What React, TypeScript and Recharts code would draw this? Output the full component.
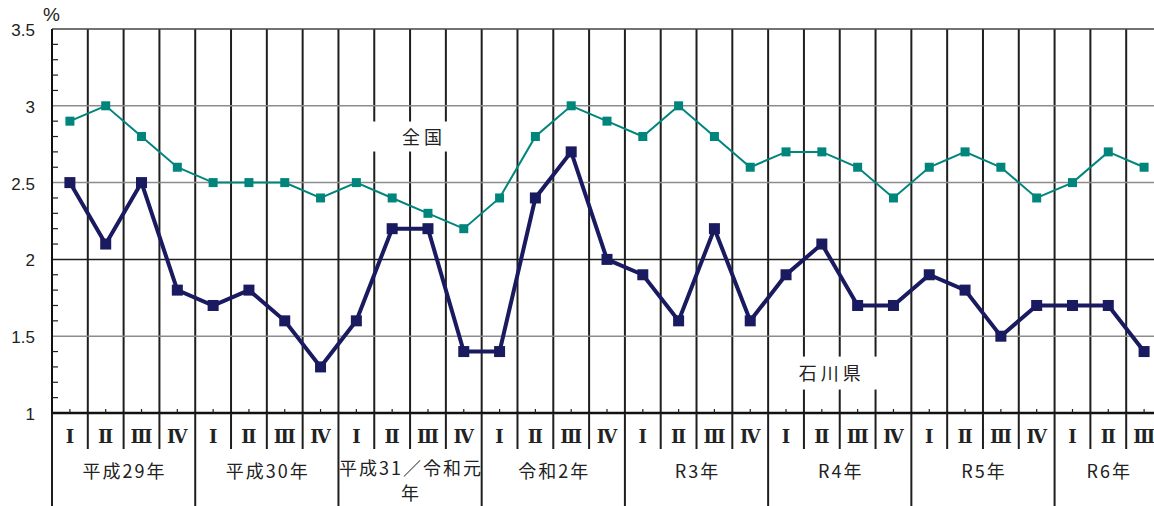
import React from 'react';
import { LineChart, Line, XAxis, YAxis, CartesianGrid, ReferenceLine, ReferenceDot } from 'recharts';

// ---- data ----
const quarterLabels = ['Ⅰ', 'Ⅱ', 'Ⅲ', 'Ⅳ'];
const yearLabels: string[][] = [
  ['平成29年'],
  ['平成30年'],
  ['平成31／令和元', '年'],
  ['令和2年'],
  ['R3年'],
  ['R4年'],
  ['R5年'],
  ['R6年'],
];
const quarterCounts = [4, 4, 4, 4, 4, 4, 4, 3];
const zenkoku = [
  2.9, 3.0, 2.8, 2.6,
  2.5, 2.5, 2.5, 2.4,
  2.5, 2.4, 2.3, 2.2,
  2.4, 2.8, 3.0, 2.9,
  2.8, 3.0, 2.8, 2.6,
  2.7, 2.7, 2.6, 2.4,
  2.6, 2.7, 2.6, 2.4,
  2.5, 2.7, 2.6,
];
const ishikawa = [
  2.5, 2.1, 2.5, 1.8,
  1.7, 1.8, 1.6, 1.3,
  1.6, 2.2, 2.2, 1.4,
  1.4, 2.4, 2.7, 2.0,
  1.9, 1.6, 2.2, 1.6,
  1.9, 2.1, 1.7, 1.7,
  1.9, 1.8, 1.5, 1.7,
  1.7, 1.7, 1.4,
];
const yMajorTicks = [1, 1.5, 2, 2.5, 3, 3.5];
const yMinorTicks = [1.1, 1.2, 1.3, 1.4, 1.6, 1.7, 1.8, 1.9, 2.1, 2.2, 2.3, 2.4, 2.6, 2.7, 2.8, 2.9, 3.1, 3.2, 3.3, 3.4];
const seriesNames = { zenkoku: '全国', ishikawa: '石川県' };

// ---- layout ----
const CHART_W = 1175;
const CHART_H = 506;
const Y_AXIS_W = 52;
const MARGIN = { top: 29, right: 13, bottom: 0, left: 0 };
const X_AXIS_H = 93;
const N = zenkoku.length;
const PLOT_W = CHART_W - Y_AXIS_W - MARGIN.right - MARGIN.left;
const CW = PLOT_W / N;

const TEAL = '#00857d';
const NAVY = '#191a5f';
const DARK = '#1e1e1e';
const GRAY = '#8c8c8c';
const TEXT = '#222';

type Row = { key: string; q: string; qi: number; yi: number; zenkoku: number; ishikawa: number };
const data: Row[] = [];
{
  let k = 0;
  yearLabels.forEach((_, yi) => {
    for (let qi = 0; qi < quarterCounts[yi]; qi++) {
      data.push({ key: `${yi}-${qi}`, q: quarterLabels[qi], qi, yi, zenkoku: zenkoku[k], ishikawa: ishikawa[k] });
      k++;
    }
  });
}

const allYTicks = [...yMajorTicks, ...yMinorTicks].sort((a, b) => a - b);
const isMajor = (v: number) => yMajorTicks.some((m) => Math.abs(m - v) < 1e-6);

const YTick = (props: any) => {
  const { x, y, payload } = props;
  const v = payload.value;
  if (isMajor(v)) {
    return (
      <text x={x - 17} y={y + 7} textAnchor="end" fontSize={17} fill={TEXT} fontFamily="'Liberation Sans', Arial, sans-serif">
        {String(v)}
      </text>
    );
  }
  return <line x1={x} x2={x + 6} y1={y} y2={y} stroke={DARK} strokeWidth={1.2} />;
};

const XTick = (props: any) => {
  const { x, y, index } = props;
  const d = data[index];
  if (!d) return null;
  const left = x - CW / 2;
  const isYearStart = d.qi === 0;
  const els: React.ReactNode[] = [];
  els.push(
    <text key="q" x={x} y={y + 30} textAnchor="middle" fontSize={18} fontWeight="bold" fill={TEXT} fontFamily="'DejaVu Serif', 'Liberation Serif', serif">
      {d.q}
    </text>
  );
  els.push(<line key="t" x1={x} x2={x} y1={y - 4} y2={y} stroke={DARK} strokeWidth={1.2} />);
  els.push(
    <line key="b" x1={left} x2={left} y1={y} y2={isYearStart ? y + X_AXIS_H : y + 36} stroke={DARK} strokeWidth={2} />
  );
  if (isYearStart) {
    const cx = left + (quarterCounts[d.yi] * CW) / 2;
    const lines = yearLabels[d.yi];
    const base = lines.length > 1 ? y + 62 : y + 65;
    lines.forEach((line, li) => {
      els.push(
        <text key={`y${li}`} x={cx + 1} y={base + li * 25} textAnchor="middle" fontSize={18} letterSpacing={2} fill={TEXT} fontFamily="'Noto Sans CJK JP', sans-serif">
          {line}
        </text>
      );
    });
  }
  return <g>{els}</g>;
};

const SquareDot = (size: number, color: string, prefix: string) => (p: any) => {
  if (p.cx == null || p.cy == null) return <g key={`${prefix}${p.index}`} />;
  return <rect key={`${prefix}${p.index}`} x={p.cx - size / 2} y={p.cy - size / 2} width={size} height={size} fill={color} />;
};

const SeriesLabel = (text: string, dx: number, rectL: number, rectW: number, rectH: number) => (p: any) => {
  const { cx, cy } = p;
  return (
    <g>
      <rect x={cx + dx + rectL} y={cy - rectH / 2} width={rectW} height={rectH} fill="#fff" />
      <text x={cx + dx} y={cy + 7} textAnchor="middle" fontSize={18} letterSpacing={4} fill={TEXT} fontFamily="'Noto Sans CJK JP', sans-serif">
        {text}
      </text>
    </g>
  );
};

const verticalGen = (args: any) => {
  const off = args.offset;
  const res: number[] = [];
  for (let i = 1; i < N; i++) res.push(off.left + i * (off.width / N));
  return res;
};

export default function App() {
  return (
    <div style={{ position: 'absolute', left: 0, top: 0, width: 1154, height: 506, overflow: 'hidden', background: '#fff' }}>
      <div style={{ position: 'absolute', left: 43, top: 5, fontSize: 19, lineHeight: '20px', color: TEXT, fontFamily: "'Liberation Sans', Arial, sans-serif" }}>%</div>
      <LineChart width={CHART_W} height={CHART_H} data={data} margin={MARGIN}>
        <CartesianGrid horizontal={false} vertical verticalCoordinatesGenerator={verticalGen} stroke={DARK} strokeWidth={2} />
        <ReferenceLine y={1.5} stroke={GRAY} strokeWidth={1.5} />
        <ReferenceLine y={2} stroke={DARK} strokeWidth={1.5} />
        <ReferenceLine y={2.5} stroke={GRAY} strokeWidth={1.5} />
        <ReferenceLine y={3} stroke={GRAY} strokeWidth={1.5} />
        <ReferenceLine y={3.5} stroke="#444" strokeWidth={1.5} />
        <XAxis
          dataKey="key"
          interval={0}
          tickLine={false}
          tickSize={0}
          tickMargin={0}
          height={X_AXIS_H}
          padding={{ left: CW / 2, right: CW / 2 }}
          axisLine={{ stroke: '#111', strokeWidth: 2.5 }}
          tick={<XTick />}
        />
        <YAxis
          type="number"
          domain={[1, 3.5]}
          ticks={allYTicks}
          interval={0}
          width={Y_AXIS_W}
          tickLine={false}
          tickSize={0}
          tickMargin={0}
          axisLine={{ stroke: '#111', strokeWidth: 2 }}
          tick={<YTick />}
          allowDataOverflow
        />
        <ReferenceDot x={data[10].key} y={2.8} r={0} shape={SeriesLabel(seriesNames.zenkoku, -4, -62, 106, 30)} />
        <ReferenceDot x={data[21].key} y={1.26} r={0} shape={SeriesLabel(seriesNames.ishikawa, 10, -52, 116, 33)} />
        <Line
          dataKey="zenkoku"
          name={seriesNames.zenkoku}
          stroke={TEAL}
          strokeWidth={2}
          dot={SquareDot(9, TEAL, 'z')}
          activeDot={false}
          isAnimationActive={false}
        />
        <Line
          dataKey="ishikawa"
          name={seriesNames.ishikawa}
          stroke={NAVY}
          strokeWidth={4}
          dot={SquareDot(11, NAVY, 'i')}
          activeDot={false}
          isAnimationActive={false}
        />
      </LineChart>
    </div>
  );
}
